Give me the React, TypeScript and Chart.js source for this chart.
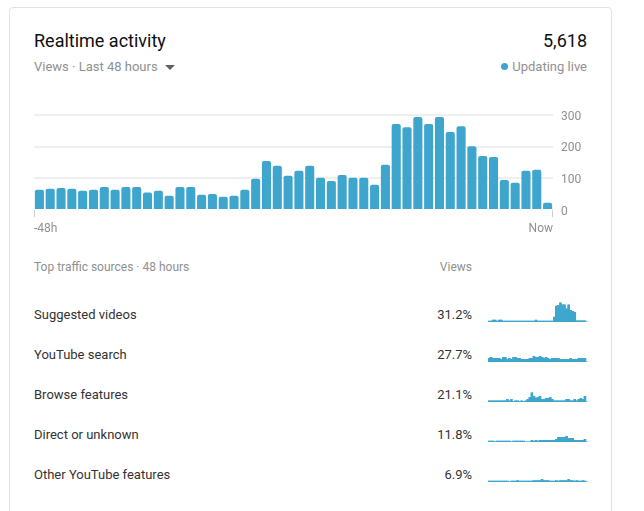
import React, { useEffect, useRef } from "react";
import { Chart, registerables } from "chart.js";
Chart.register(...registerables);

const BLUE = "#3ea6cc";
const LIGHT = "#b6dcea";

const hourLabels = [
  "-48h","-47h","-46h","-45h","-44h","-43h","-42h","-41h","-40h","-39h",
  "-38h","-37h","-36h","-35h","-34h","-33h","-32h","-31h","-30h","-29h",
  "-28h","-27h","-26h","-25h","-24h","-23h","-22h","-21h","-20h","-19h",
  "-18h","-17h","-16h","-15h","-14h","-13h","-12h","-11h","-10h","-9h",
  "-8h","-7h","-6h","-5h","-4h","-3h","-2h","Now",
];
const axisEndLabels = ["-48h", "Now"];
const yTicks = [0, 100, 200, 300];

const views = [
  64, 67, 70, 67, 61, 64, 73, 64, 73, 73,
  55, 61, 45, 73, 73, 48, 51, 42, 45, 64,
  99, 155, 140, 108, 124, 140, 102, 92, 111, 102,
  102, 80, 143, 272, 262, 294, 272, 294, 247, 265,
  202, 171, 168, 95, 86, 124, 127, 23,
];

const sourceNames = ["Suggested videos", "YouTube search", "Browse features", "Direct or unknown", "Other YouTube features"];
const sourceShares = ["31.2%", "27.7%", "21.1%", "11.8%", "6.9%"];

const suggested = [
  10, 10, 20, 20, 10, 20, 20, 10, 10, 10,
  10, 10, 10, 10, 10, 10, 10, 10, 10, 10,
  10, 10, 10, 20, 10, 10, 10, 10, 10, 10,
  10, 10, 50, 160, 167, 193, 173, 173, 133, 173,
  117, 107, 97, 13, 13, 13, 13, 13,
];
const search = [
  37, 47, 37, 37, 37, 37, 27, 47, 47, 27,
  37, 27, 47, 47, 37, 37, 27, 27, 27, 27,
  37, 37, 57, 47, 47, 57, 47, 37, 47, 37,
  27, 37, 37, 37, 37, 27, 27, 27, 27, 27,
  37, 27, 27, 27, 37, 37, 37, 37,
];
const browse = [
  13, 13, 13, 13, 13, 13, 13, 13, 13, 27,
  13, 27, 5, 13, 13, 5, 13, 5, 13, 27,
  47, 93, 57, 40, 47, 57, 27, 27, 37, 37,
  47, 27, 13, 13, 13, 13, 13, 13, 27, 27,
  13, 13, 27, 13, 27, 37, 27, 57,
];
const direct = [
  10, 10, 10, 0, 10, 10, 10, 10, 10, 10,
  10, 0, 10, 10, 10, 10, 10, 10, 0, 0,
  0, 17, 10, 17, 10, 17, 17, 17, 17, 17,
  17, 17, 17, 27, 47, 47, 47, 47, 57, 37,
  37, 37, 17, 17, 17, 17, 17, 27,
];
const other = [
  10, 10, 10, 10, 10, 10, 10, 10, 10, 10,
  0, 10, 10, 10, 15, 10, 10, 10, 10, 10,
  10, 10, 15, 15, 15, 15, 27, 15, 15, 15,
  10, 10, 10, 15, 10, 15, 15, 15, 15, 27,
  15, 15, 10, 15, 10, 10, 15, 10,
];
const sourceSeries = [suggested, search, browse, direct, other];
const sparkMax = 200;

const FONT = "Roboto, 'Noto Sans', Arial, sans-serif";

function MainChart() {
  const ref = useRef<HTMLCanvasElement>(null);
  useEffect(() => {
    const endLabels = {
      id: "endLabels",
      afterDraw(chart: any) {
        const { ctx, chartArea: a } = chart;
        ctx.save();
        ctx.strokeStyle = "#cfcfcf";
        ctx.lineWidth = 1;
        ctx.beginPath();
        ctx.moveTo(a.left + 0.5, a.bottom);
        ctx.lineTo(a.left + 0.5, a.bottom + 7);
        ctx.moveTo(a.right - 0.5, a.bottom);
        ctx.lineTo(a.right - 0.5, a.bottom + 7);
        ctx.stroke();
        ctx.fillStyle = "#909090";
        ctx.font = "12px " + FONT;
        ctx.textBaseline = "middle";
        ctx.textAlign = "left";
        ctx.fillText(axisEndLabels[0], a.left, a.bottom + 18.5);
        ctx.textAlign = "right";
        ctx.fillText(axisEndLabels[1], a.right, a.bottom + 18.5);
        ctx.restore();
      },
    };
    const chart = new Chart(ref.current!, {
      type: "bar",
      data: {
        labels: hourLabels,
        datasets: [
          {
            data: views,
            backgroundColor: BLUE,
            borderWidth: 0,
            borderRadius: 2,
            barPercentage: 0.84,
            categoryPercentage: 1,
          },
        ],
      },
      options: {
        animation: false,
        responsive: true,
        maintainAspectRatio: false,
        layout: { padding: { top: 15, bottom: 25, left: 0, right: 0 } },
        plugins: { legend: { display: false }, tooltip: { enabled: false } },
        scales: {
          x: { display: false },
          y: {
            position: "right",
            min: yTicks[0],
            max: yTicks[yTicks.length - 1],
            afterFit: (s: any) => {
              s.width = 34;
            },
            afterBuildTicks: (s: any) => {
              s.ticks = yTicks.map((v) => ({ value: v }));
            },
            border: { display: false },
            grid: {
              drawTicks: false,
              lineWidth: 2,
              color: (c: any) => (c.tick && c.tick.value === 0 ? "rgba(0,0,0,0)" : "#efefef"),
            },
            ticks: {
              padding: 8,
              labelOffset: 1.5,
              color: "#909090",
              font: { family: FONT, size: 12 },
            },
          },
        },
      },
      plugins: [endLabels],
    } as any);
    return () => chart.destroy();
  }, []);
  return (
    <div style={{ position: "absolute", left: 34, top: 100, width: 553, height: 135 }}>
      <canvas ref={ref} />
    </div>
  );
}

function Spark({ values, top }: { values: number[]; top: number }) {
  const ref = useRef<HTMLCanvasElement>(null);
  useEffect(() => {
    const baseLine = {
      id: "baseLine",
      beforeDatasetsDraw(chart: any) {
        const { ctx, chartArea: a } = chart;
        ctx.save();
        ctx.fillStyle = LIGHT;
        ctx.fillRect(a.left, a.bottom - 1, a.right - a.left, 1);
        ctx.restore();
      },
    };
    const chart = new Chart(ref.current!, {
      type: "bar",
      data: {
        labels: [...hourLabels, ""],
        datasets: [
          {
            data: [...values, null],
            backgroundColor: BLUE,
            borderWidth: 0,
            barPercentage: 1,
            categoryPercentage: 1,
          },
        ],
      },
      options: {
        animation: false,
        responsive: true,
        maintainAspectRatio: false,
        layout: { padding: 0 },
        plugins: { legend: { display: false }, tooltip: { enabled: false } },
        scales: {
          x: { display: false },
          y: { display: false, min: 0, max: sparkMax },
        },
      },
      plugins: [baseLine],
    } as any);
    return () => chart.destroy();
  }, [values]);
  return (
    <div style={{ position: "absolute", left: 488, top, width: 100, height: 20 }}>
      <canvas ref={ref} />
    </div>
  );
}

export default function App() {
  const grey = "#909090";
  return (
    <div
      style={{
        position: "fixed",
        left: 0,
        top: 0,
        width: 644,
        height: 511,
        overflow: "hidden",
        background: "#ffffff",
        fontFamily: FONT,
      }}
    >
      <div
        style={{
          position: "absolute",
          left: 9,
          top: 7,
          width: 603,
          height: 560,
          boxSizing: "border-box",
          border: "1px solid #e2e2e2",
          borderRadius: 4,
        }}
      />
      <div style={{ position: "absolute", left: 34, top: 29, fontSize: 18, lineHeight: "24px", color: "#0f0f0f" }}>
        Realtime activity
      </div>
      <div style={{ position: "absolute", right: 644 - 587, top: 29, fontSize: 18, lineHeight: "24px", color: "#0f0f0f" }}>
        5,618
      </div>
      <div style={{ position: "absolute", left: 34, top: 59, fontSize: 13, lineHeight: "16px", color: grey, whiteSpace: "nowrap" }}>
        Views · Last 48 hours
      </div>
      <div
        style={{
          position: "absolute",
          left: 165,
          top: 65,
          width: 0,
          height: 0,
          borderLeft: "5px solid transparent",
          borderRight: "5px solid transparent",
          borderTop: "5px solid #606060",
        }}
      />
      <div
        style={{
          position: "absolute",
          left: 501,
          top: 63,
          width: 7,
          height: 7,
          borderRadius: "50%",
          background: BLUE,
        }}
      />
      <div style={{ position: "absolute", right: 644 - 587, top: 59, fontSize: 13, lineHeight: "16px", color: grey, whiteSpace: "nowrap" }}>
        Updating live
      </div>

      <MainChart />

      <div style={{ position: "absolute", left: 34, top: 259, fontSize: 12, lineHeight: "16px", color: grey, whiteSpace: "nowrap" }}>
        Top traffic sources · 48 hours
      </div>
      <div style={{ position: "absolute", right: 644 - 472, top: 259, fontSize: 12, lineHeight: "16px", color: grey }}>
        Views
      </div>

      {sourceNames.map((name, i) => (
        <React.Fragment key={name}>
          <div
            style={{
              position: "absolute",
              left: 34,
              top: 307 + i * 40,
              fontSize: 13,
              lineHeight: "16px",
              color: "#333333",
              whiteSpace: "nowrap",
            }}
          >
            {name}
          </div>
          <div
            style={{
              position: "absolute",
              right: 644 - 472,
              top: 307 + i * 40,
              fontSize: 13,
              lineHeight: "16px",
              color: "#333333",
            }}
          >
            {sourceShares[i]}
          </div>
          <Spark values={sourceSeries[i]} top={302 + i * 40} />
        </React.Fragment>
      ))}
    </div>
  );
}
